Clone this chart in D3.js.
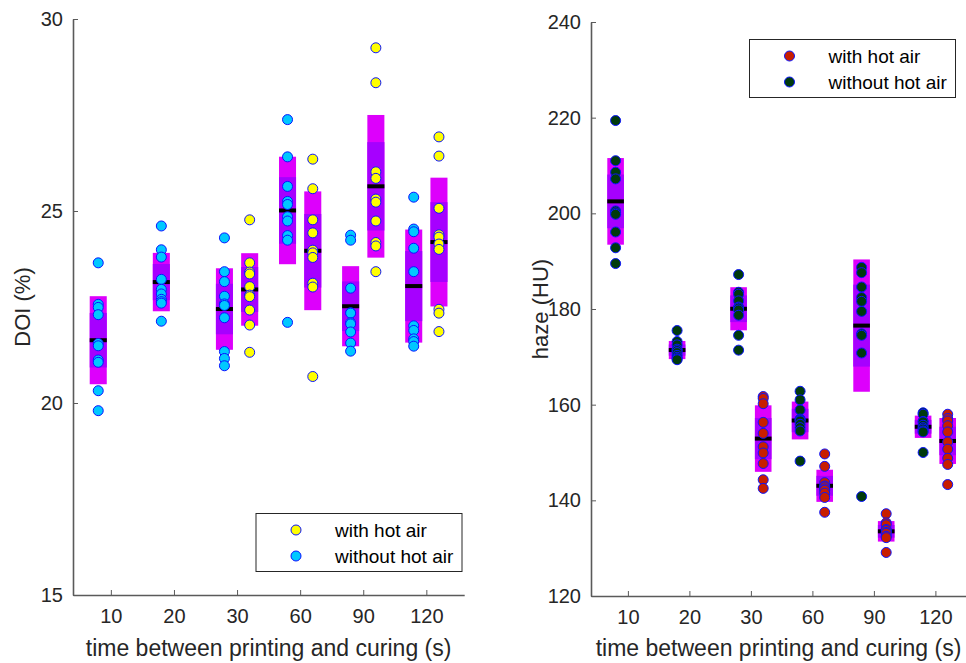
<!DOCTYPE html>
<html>
<head>
<meta charset="utf-8">
<script src="https://cdn.jsdelivr.net/npm/d3@7"></script>
<style>
  body { margin: 0; background: #fff; }
  svg { display: block; font-family: "Liberation Sans", Arial, sans-serif; }
</style>
</head>
<body>
<svg id="chart" width="966" height="663"></svg>
<script>
// Categories (time between printing and curing, s)
let categories = ["10", "20", "30", "60", "90", "120"];

// DOI (%), one array per category
let doiWithout = [
  [23.65, 22.57, 22.49, 22.30, 21.55, 21.49, 21.12, 21.06, 20.32, 19.80],
  [24.61, 23.99, 23.80, 23.22, 22.96, 22.84, 22.70, 22.64, 22.60, 22.13],
  [24.30, 23.42, 23.16, 22.78, 22.58, 22.54, 22.22, 21.34, 21.16, 20.97],
  [27.38, 26.41, 25.64, 25.25, 25.17, 24.85, 24.74, 24.36, 24.24, 22.10],
  [24.37, 24.24, 22.99, 22.35, 22.34, 22.09, 22.06, 21.85, 21.56, 21.35],
  [25.36, 24.53, 24.46, 24.03, 23.42, 22.01, 21.89, 21.67, 21.60, 21.48]
];
let doiWith = [
  [],
  [],
  [24.77, 23.65, 23.41, 23.36, 23.03, 22.81, 22.77, 22.42, 22.03, 21.32],
  [26.35, 25.58, 24.77, 24.43, 23.98, 23.91, 23.79, 23.12, 23.02, 20.69],
  [29.25, 28.34, 26.02, 25.85, 25.31, 25.23, 24.74, 24.18, 24.09, 23.42],
  [26.93, 26.43, 25.07, 24.38, 24.32, 24.14, 24.00, 22.44, 22.34, 21.86]
];

// haze (HU)
let hazeWithout = [
  [219.4, 211.0, 208.6, 207.2, 200.5, 200.1, 199.8, 196.1, 192.8, 189.5],
  [175.5, 173.2, 172.5, 171.6, 171.3, 170.9, 170.3, 169.9, 169.6, 169.4],
  [187.2, 183.5, 183.1, 181.7, 180.4, 180.2, 179.8, 178.7, 174.5, 171.4],
  [162.8, 161.0, 158.9, 157.0, 156.8, 156.6, 155.9, 155.2, 154.5, 148.2],
  [188.7, 187.6, 184.6, 182.4, 181.6, 179.5, 174.8, 174.5, 170.8, 140.8],
  [158.3, 158.0, 156.5, 156.4, 155.7, 155.2, 154.9, 154.5, 154.3, 150.0]
];
let hazeWith = [
  [],
  [],
  [161.7, 161.3, 160.2, 156.3, 154.0, 151.2, 149.9, 147.7, 144.3, 142.5],
  [149.7, 147.1, 143.7, 143.0, 142.8, 142.4, 142.1, 141.5, 140.6, 137.5],
  [137.2, 135.3, 134.9, 133.9, 133.7, 133.3, 133.1, 132.5, 132.2, 129.1],
  [158.0, 157.1, 156.6, 155.6, 154.3, 152.2, 150.7, 148.8, 147.5, 143.3]
];

let doiTicks = [15, 20, 25, 30];
let hazeTicks = [120, 140, 160, 180, 200, 220, 240];

let svg = d3.select("#chart");

let axisCol = "#5a5a5a";
let textCol = "#262626";
let sdCol = "#dd00fc";
let ciCol = "#a600ff";
let edgeCol = "#0a14ff";

function drawPanel(p) {
  let x = d3.scaleLinear().domain([0.4, 6.6]).range(p.xRange);
  let y = d3.scaleLinear().domain(p.yDomain).range(p.yRange);
  let half = 0.135;

  let g = svg.append("g");

  // Groups: SD box, 95% CI box, mean bar, points
  p.series.forEach(s => {
    s.values.forEach((vals, i) => {
      if (!vals.length) return;
      let cx = i + 1 + s.offset;
      let m = d3.mean(vals);
      let sd = d3.deviation(vals);
      let ci = 1.96 * sd / Math.sqrt(vals.length);
      let x0 = x(cx - half), w = x(cx + half) - x(cx - half);

      g.append("rect")
        .attr("x", x0).attr("width", w)
        .attr("y", y(m + sd)).attr("height", y(m - sd) - y(m + sd))
        .attr("fill", sdCol);
      g.append("rect")
        .attr("x", x0).attr("width", w)
        .attr("y", y(m + ci)).attr("height", y(m - ci) - y(m + ci))
        .attr("fill", ciCol);
      g.append("rect")
        .attr("x", x0).attr("width", w)
        .attr("y", y(m) - 2).attr("height", 4)
        .attr("fill", "#000");

      g.selectAll(null)
        .data(vals)
        .enter().append("circle")
        .attr("cx", x(cx))
        .attr("cy", d => y(d))
        .attr("r", 5)
        .attr("fill", s.color)
        .attr("stroke", edgeCol)
        .attr("stroke-width", 1);
    });
  });

  // Axes
  let xAxis = d3.axisBottom(x)
    .tickValues(d3.range(1, 7))
    .tickFormat(d => categories[d - 1])
    .tickSizeInner(-5).tickSizeOuter(0).tickPadding(14);
  let yAxis = d3.axisLeft(y)
    .tickValues(p.ticks)
    .tickSizeInner(-5).tickSizeOuter(0).tickPadding(10);

  let gx = svg.append("g")
    .attr("transform", `translate(0,${p.yRange[0]})`)
    .call(xAxis);
  let gy = svg.append("g")
    .attr("transform", `translate(${p.xRange[0]},0)`)
    .call(yAxis);

  [gx, gy].forEach(a => {
    a.attr("font-size", 20).attr("font-family", null);
    a.select(".domain").attr("stroke", axisCol).attr("stroke-width", 1.6);
    a.selectAll(".tick line").attr("stroke", axisCol);
    a.selectAll(".tick text").attr("fill", textCol);
  });

  // Axis titles
  svg.append("text")
    .attr("x", (p.xRange[0] + Math.min(p.xRange[1], 966)) / 2)
    .attr("y", 656)
    .attr("text-anchor", "middle")
    .attr("font-size", 23)
    .attr("fill", textCol)
    .text("time between printing and curing (s)");

  svg.append("text")
    .attr("transform", `translate(${p.yTitleX},${(p.yRange[0] + p.yRange[1]) / 2}) rotate(-90)`)
    .attr("text-anchor", "middle")
    .attr("font-size", 22)
    .attr("fill", textCol)
    .text(p.yTitle);

  // Legend
  let lg = svg.append("g").attr("transform", `translate(${p.legend.x},${p.legend.y})`);
  lg.append("rect")
    .attr("width", p.legend.w).attr("height", 58)
    .attr("fill", "#fff").attr("stroke", textCol).attr("stroke-width", 1);
  [p.series[1], p.series[0]].forEach((s, k) => {
    lg.append("circle")
      .attr("cx", 40).attr("cy", 16.5 + k * 26)
      .attr("r", 5)
      .attr("fill", s.color).attr("stroke", edgeCol);
    lg.append("text")
      .attr("x", 79).attr("y", 23 + k * 26)
      .attr("font-size", 19)
      .attr("fill", "#000")
      .text(s.label);
  });
}

drawPanel({
  xRange: [73, 464.2],
  yRange: [595, 19],
  yDomain: [15, 30],
  ticks: doiTicks,
  yTitle: "DOI (%)",
  yTitleX: 30,
  series: [
    { values: doiWithout, offset: -0.2, color: "#00c8ff", label: "without hot air" },
    { values: doiWith, offset: 0.2, color: "#ffff00", label: "with hot air" }
  ],
  legend: { x: 256, y: 513.5, w: 206 }
});

drawPanel({
  xRange: [591, 972.3],
  yRange: [596, 22],
  yDomain: [120, 240],
  ticks: hazeTicks,
  yTitle: "haze (HU)",
  yTitleX: 548,
  series: [
    { values: hazeWithout, offset: -0.2, color: "#003a0c", label: "without hot air" },
    { values: hazeWith, offset: 0.2, color: "#c81e00", label: "with hot air" }
  ],
  legend: { x: 749.5, y: 39.5, w: 206 }
});
</script>
</body>
</html>
